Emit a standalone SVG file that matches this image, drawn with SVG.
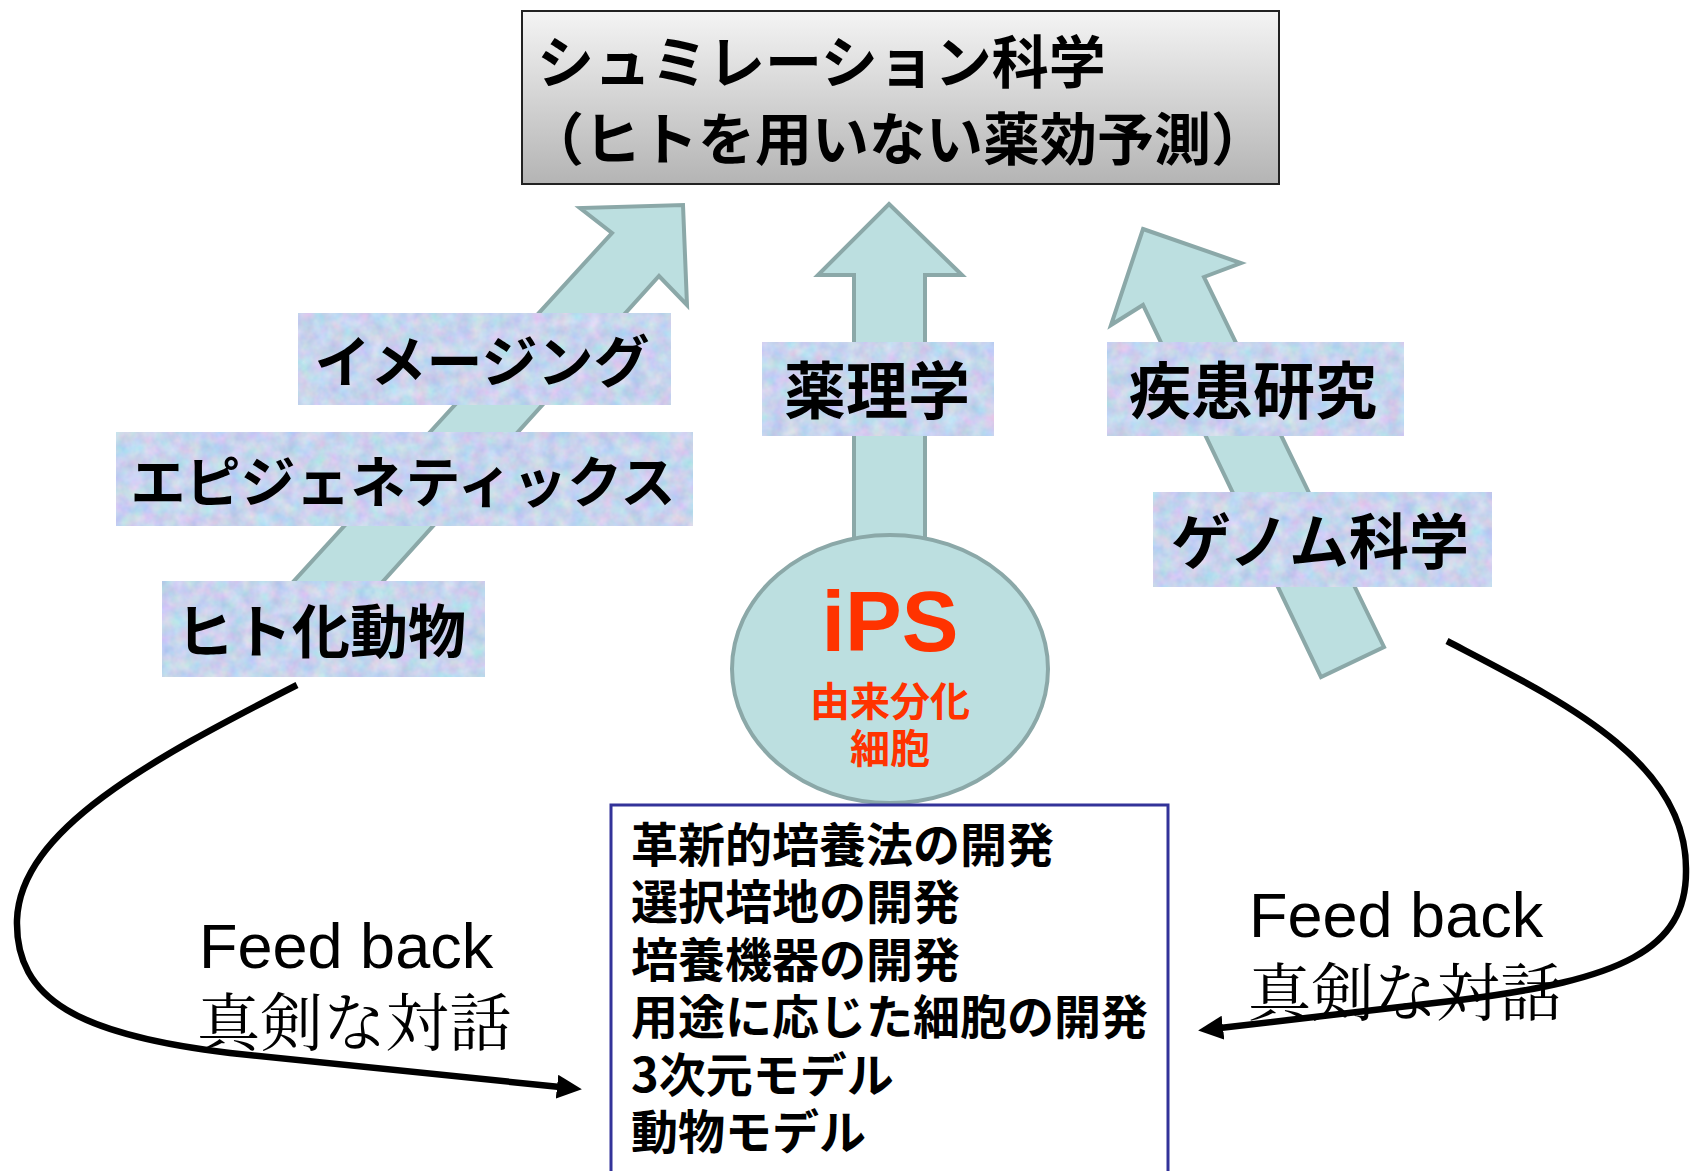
<svg xmlns="http://www.w3.org/2000/svg" width="1691" height="1171" viewBox="0 0 1691 1171">
<defs>
<style>
.jp{font-family:"Noto Sans CJK JP","Noto Sans",sans-serif;font-weight:700;fill:#000}
.lbl{text-anchor:middle}
.arrow{fill:#bcdfe0;stroke:#8ba8a8;stroke-width:4;stroke-linejoin:miter}
.tile{stroke:#ffffff;stroke-width:2;filter:url(#tex)}
.fb{fill:none;stroke:#000;stroke-width:6.5;stroke-linecap:butt}
.en{font-family:"Liberation Sans",Arial,sans-serif;fill:#000}
.mincho{font-family:"Noto Serif CJK JP","Liberation Serif","Noto Sans CJK JP",serif;font-weight:400;fill:#000}
.ips{fill:#ff3300;text-anchor:middle}
</style>
<linearGradient id="gray" x1="0" y1="0" x2="0" y2="1">
<stop offset="0" stop-color="#f4f4f4"/>
<stop offset="1" stop-color="#b4b4b4"/>
</linearGradient>
<filter id="tex" x="0" y="0" width="100%" height="100%" color-interpolation-filters="sRGB">
<feTurbulence type="fractalNoise" baseFrequency="0.07" numOctaves="3" seed="7" result="n"/>
<feColorMatrix in="n" type="matrix" values="0.3 0 0 0 0.63  0 0.2 0 0 0.73  0 0 0.12 0 0.87  0 0 0 0 1" result="c"/>
<feComposite in="c" in2="SourceGraphic" operator="in"/>
</filter>
<marker id="ah" viewBox="0 0 25 24" refX="3" refY="12" markerWidth="25" markerHeight="24" orient="auto" markerUnits="userSpaceOnUse">
<path d="M0,0 L25,12 L0,24 z" fill="#000"/>
</marker>
</defs>

<g id="arrows">
<polygon id="arrow-left" class="arrow" points="683,205 687,305 659,276 330,640 240,640 612,233 580,208"/>
<polygon id="arrow-mid" class="arrow" points="889,204 962,275 925,275 925,560 854,560 854,275 818,275"/>
<polygon id="arrow-right" class="arrow" points="1143,229 1241,263 1204,277 1384,647 1321,677 1143,305 1111,325"/>
</g>

<g id="top-box">
<rect x="522" y="11" width="757" height="173" fill="url(#gray)" stroke="#222" stroke-width="2"/>
<text class="jp" x="537" y="83" font-size="57">シュミレーション科学</text>
<text class="jp" x="527" y="160" font-size="57">（ヒトを用いない薬効予測）</text>
</g>

<g id="node-imaging">
<rect class="tile" x="298" y="313" width="373" height="92"/>
<text class="jp lbl" x="482" y="382" font-size="56">イメージング</text>
</g>
<g id="node-epigenetics">
<rect class="tile" x="116" y="432" width="577" height="94"/>
<text class="jp lbl" x="403" y="502" font-size="55">エピジェネティックス</text>
</g>
<g id="node-humanized">
<rect class="tile" x="162" y="581" width="323" height="96"/>
<text class="jp lbl" x="321" y="653" font-size="58">ヒト化動物</text>
</g>
<g id="node-pharmacology">
<rect class="tile" x="762" y="342" width="232" height="94"/>
<text class="jp lbl" x="877" y="414" font-size="62">薬理学</text>
</g>
<g id="node-disease">
<rect class="tile" x="1107" y="342" width="297" height="94"/>
<text class="jp lbl" x="1253" y="414" font-size="62">疾患研究</text>
</g>
<g id="node-genome">
<rect class="tile" x="1153" y="492" width="339" height="95"/>
<text class="jp lbl" x="1320" y="564" font-size="60">ゲノム科学</text>
</g>

<g id="node-ips">
<ellipse cx="890" cy="669" rx="158" ry="134" fill="#bcdfe0" stroke="#8ba8a8" stroke-width="4"/>
<text class="ips" x="890" y="651" font-family="Liberation Sans, Arial, sans-serif" font-weight="700" font-size="85">iPS</text>
<text class="jp ips" x="890" y="716" font-size="40">由来分化</text>
<text class="jp ips" x="890" y="763" font-size="40">細胞</text>
</g>

<g id="node-dev">
<rect x="611" y="805" width="557" height="380" fill="#fff" stroke="#333399" stroke-width="3"/>
<text class="jp" x="631" y="862" font-size="47">革新的培養法の開発</text>
<text class="jp" x="631" y="919" font-size="47">選択培地の開発</text>
<text class="jp" x="631" y="977" font-size="47">培養機器の開発</text>
<text class="jp" x="631" y="1034" font-size="47">用途に応じた細胞の開発</text>
<text class="jp" x="631" y="1092" font-size="47">3次元モデル</text>
<text class="jp" x="631" y="1149" font-size="47">動物モデル</text>
</g>

<g id="feedback-labels">
<text class="en" x="199" y="968" font-size="63">Feed back</text>
<text class="mincho" x="197" y="1045" font-size="63">真剣な対話</text>
<text class="en" x="1249" y="937" font-size="63">Feed back</text>
<text class="mincho" x="1248" y="1015" font-size="63">真剣な対話</text>
</g>

<g id="connectors">
<path class="fb" d="M297,685 C150,760 20,830 17,920 C15,1000 80,1035 230,1053 L560,1087" marker-end="url(#ah)"/>
<path class="fb" d="M1447,641 C1560,700 1687,760 1686,870 C1687,950 1620,980 1460,1000 L1220,1028" marker-end="url(#ah)"/>
</g>
</svg>
